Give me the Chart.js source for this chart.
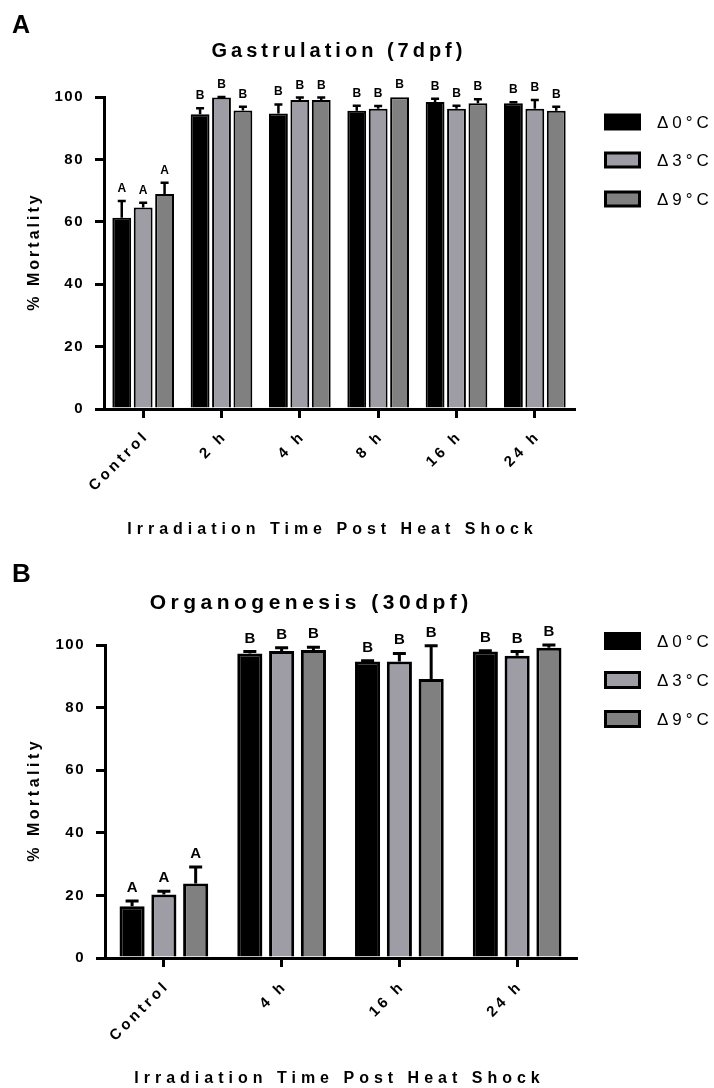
<!DOCTYPE html>
<html>
<head>
<meta charset="utf-8">
<script src="https://cdn.jsdelivr.net/npm/chart.js@4.4.1/dist/chart.umd.min.js"></script>
<style>
  html, body { margin: 0; padding: 0; background: #fff; }
  #wrap { position: relative; width: 714px; height: 1088px; }
  .panel { position: absolute; left: 0; width: 714px; height: 544px; }
</style>
</head>
<body>
<div id="wrap">
  <div class="panel" style="top:0"><canvas id="chartA" width="714" height="544"></canvas></div>
  <div class="panel" style="top:544px"><canvas id="chartB" width="714" height="544"></canvas></div>
</div>
<script>
const seriesLabels = ['\u03940\u00b0C', '\u03943\u00b0C', '\u03949\u00b0C'];
const yTickValues = [0, 20, 40, 60, 80, 100];

// Gastrulation (7 dpf)
const groupsA = ['Control', '2 h', '4 h', '8 h', '16 h', '24 h'];
const mortA0 = [61.3, 94.5, 94.7, 95.6, 98.4, 98.0];
const mortA3 = [64.6, 99.8, 99.0, 96.2, 96.2, 96.2];
const mortA9 = [68.9, 95.7, 99.0, 99.9, 98.0, 95.6];
const semA0 = [5.4, 1.9, 2.9, 1.6, 1.0, 0.3];
const semA3 = [1.5, 0.2, 0.8, 0.9, 1.0, 2.8];
const semA9 = [3.6, 1.2, 0.8, 0.0, 1.3, 1.3];
const sigA0 = ['A', 'B', 'B', 'B', 'B', 'B'];
const sigA3 = ['A', 'B', 'B', 'B', 'B', 'B'];
const sigA9 = ['A', 'B', 'B', 'B', 'B', 'B'];

// Organogenesis (30 dpf)
const groupsB = ['Control', '4 h', '16 h', '24 h'];
const mortB0 = [16.5, 97.3, 94.7, 97.9];
const mortB3 = [20.3, 98.1, 94.7, 96.6];
const mortB9 = [23.8, 98.4, 89.1, 99.1];
const semB0 = [1.7, 0.6, 0.3, 0.3];
const semB3 = [1.0, 1.0, 2.6, 1.3];
const semB9 = [5.3, 0.9, 10.7, 0.9];
const sigB0 = ['A', 'B', 'B', 'B'];
const sigB3 = ['A', 'B', 'B', 'B'];
const sigB9 = ['A', 'B', 'B', 'B'];

const FONT = '"Liberation Sans", Arial, sans-serif';
const fills = ['#000000', '#9e9da5', '#808080'];

function spacedText(ctx, text, x, y, spacing, align) {
    ctx.letterSpacing = spacing + 'px';
    ctx.textAlign = align || 'center';
    // canvas adds the spacing after the last glyph too
    const shift = align === 'right' ? spacing : (align === 'left' ? 0 : spacing / 2);
    ctx.fillText(text, x + shift, y);
}

function decorPlugin(p) {
    const d = p.deco;
    return {
        id: 'figureDecor',
        beforeDraw(chart) {
            chart.ctx.letterSpacing = '1.5px';
        },
        afterDatasetsDraw(chart) {
            const ctx = chart.ctx;
            const yScale = chart.scales.y;
            ctx.save();
            ctx.strokeStyle = '#000';
            ctx.lineWidth = d.errWidth;
            ctx.fillStyle = '#000';
            p.means.forEach((means, i) => {
                const meta = chart.getDatasetMeta(i);
                meta.data.forEach((bar, j) => {
                    const top = yScale.getPixelForValue(means[j] + p.sems[i][j]);
                    if (p.sems[i][j] > 0) {
                        ctx.beginPath();
                        ctx.moveTo(bar.x, bar.y);
                        ctx.lineTo(bar.x, top);
                        ctx.moveTo(bar.x - d.errCap / 2, top);
                        ctx.lineTo(bar.x + d.errCap / 2, top);
                        ctx.stroke();
                    }
                    ctx.font = 'bold ' + d.sigSize + 'px ' + FONT;
                    ctx.textBaseline = 'alphabetic';
                    spacedText(ctx, p.sig[i][j], bar.x, Math.min(top, bar.y) - d.sigGap, 0);
                });
            });
            ctx.restore();
        },
        afterDraw(chart) {
            const ctx = chart.ctx;
            const area = chart.chartArea;
            const xScale = chart.scales.x;
            ctx.save();
            ctx.fillStyle = '#000';

            // panel letter
            ctx.font = 'bold ' + d.letterSize + 'px ' + FONT;
            ctx.textBaseline = 'alphabetic';
            spacedText(ctx, d.letter, 12, d.letterY, 0, 'left');

            // panel title
            ctx.font = 'bold ' + d.titleSize + 'px ' + FONT;
            spacedText(ctx, d.title, d.titleX, d.titleY, d.titleSpacing);

            // rotated category labels
            ctx.font = 'bold 15px ' + FONT;
            ctx.textBaseline = 'middle';
            p.groups.forEach((g, j) => {
                ctx.save();
                ctx.translate(xScale.getPixelForTick(j) + 1, area.bottom + d.labelDrop);
                ctx.rotate(-Math.PI / 4);
                spacedText(ctx, g, 0, 0, 3.5, 'right');
                ctx.restore();
            });

            // axis titles
            ctx.font = 'bold ' + d.axisSize + 'px ' + FONT;
            ctx.textBaseline = 'alphabetic';
            spacedText(ctx, 'Irradiation Time Post Heat Shock', d.xTitleX, d.xTitleY, d.xTitleSpacing);

            ctx.save();
            ctx.translate(35, (area.top + area.bottom) / 2);
            ctx.rotate(-Math.PI / 2);
            ctx.textBaseline = 'middle';
            spacedText(ctx, '% Mortality', 0, 0, d.yTitleSpacing);
            ctx.restore();

            // legend
            ctx.font = '17px ' + FONT;
            ctx.textBaseline = 'middle';
            seriesLabels.forEach((lab, i) => {
                const cy = d.legendRows[i];
                const bx = 604, bw = 37, bh = d.legendBox, b = 3;
                ctx.fillStyle = '#000';
                ctx.fillRect(bx, cy - bh / 2, bw, bh);
                ctx.fillStyle = fills[i];
                ctx.fillRect(bx + b, cy - bh / 2 + b, bw - 2 * b, bh - 2 * b);
                ctx.fillStyle = '#000';
                spacedText(ctx, lab, 657, cy + 1, 4, 'left');
            });
            ctx.restore();
        }
    };
}

function renderPanel(p) {
    const a = p.area;
    const axisStyle = {
        grid: { drawOnChartArea: false, drawTicks: true, tickLength: 9, lineWidth: 3, color: '#000', offset: false },
        border: { display: true, width: 3, color: '#000' }
    };
    return new Chart(document.getElementById(p.canvasId), {
        type: 'bar',
        data: {
            labels: p.groups,
            datasets: p.means.map((m, i) => ({
                label: seriesLabels[i],
                data: m,
                backgroundColor: fills[i],
                borderColor: '#000',
                borderWidth: p.border,
                categoryPercentage: p.catPct,
                barPercentage: p.barPct,
                clip: false
            }))
        },
        options: {
            responsive: false,
            animation: false,
            events: [],
            layout: { padding: { top: a.top, left: 0, right: 714 - a.right, bottom: 544 - a.bottom - 40 } },
            plugins: { legend: { display: false }, title: { display: false }, tooltip: { enabled: false } },
            scales: {
                x: Object.assign({
                    ticks: { display: false },
                    afterFit: s => { s.height = 40; }
                }, axisStyle),
                y: Object.assign({
                    min: 0,
                    max: 100,
                    afterBuildTicks: s => { s.ticks = yTickValues.map(v => ({ value: v })); },
                    afterFit: s => { s.width = a.left; },
                    ticks: { color: '#000', padding: 11, font: { family: FONT, size: 15, weight: 'bold' } }
                }, axisStyle)
            }
        },
        plugins: [decorPlugin(p)]
    });
}

renderPanel({
    canvasId: 'chartA',
    groups: groupsA,
    means: [mortA0, mortA3, mortA9],
    sems: [semA0, semA3, semA9],
    sig: [sigA0, sigA3, sigA9],
    area: { top: 97, left: 104, right: 574, bottom: 409 },
    catPct: 0.82,
    barPct: 0.88,
    border: 2,
    deco: {
        letter: 'A', letterSize: 25, letterY: 33,
        title: 'Gastrulation (7dpf)', titleSize: 20, titleSpacing: 4, titleX: 337, titleY: 57,
        axisSize: 16, xTitleX: 330, xTitleY: 534, xTitleSpacing: 5, yTitleSpacing: 3,
        labelDrop: 27, sigSize: 12, sigGap: 9,
        errWidth: 2.5, errCap: 8,
        legendRows: [122, 160, 199], legendBox: 17
    }
});

renderPanel({
    canvasId: 'chartB',
    groups: groupsB,
    means: [mortB0, mortB3, mortB9],
    sems: [semB0, semB3, semB9],
    sig: [sigB0, sigB3, sigB9],
    area: { top: 101, left: 105, right: 576, bottom: 414 },
    catPct: 0.81,
    barPct: 0.79,
    border: 3,
    deco: {
        letter: 'B', letterSize: 26, letterY: 38,
        title: 'Organogenesis (30dpf)', titleSize: 21, titleSpacing: 4.5, titleX: 309, titleY: 65,
        axisSize: 16, xTitleX: 337, xTitleY: 539, xTitleSpacing: 5, yTitleSpacing: 3.5,
        labelDrop: 28, sigSize: 15, sigGap: 9,
        errWidth: 3, errCap: 13,
        legendRows: [97, 136, 175], legendBox: 18
    }
});
</script>
</body>
</html>
